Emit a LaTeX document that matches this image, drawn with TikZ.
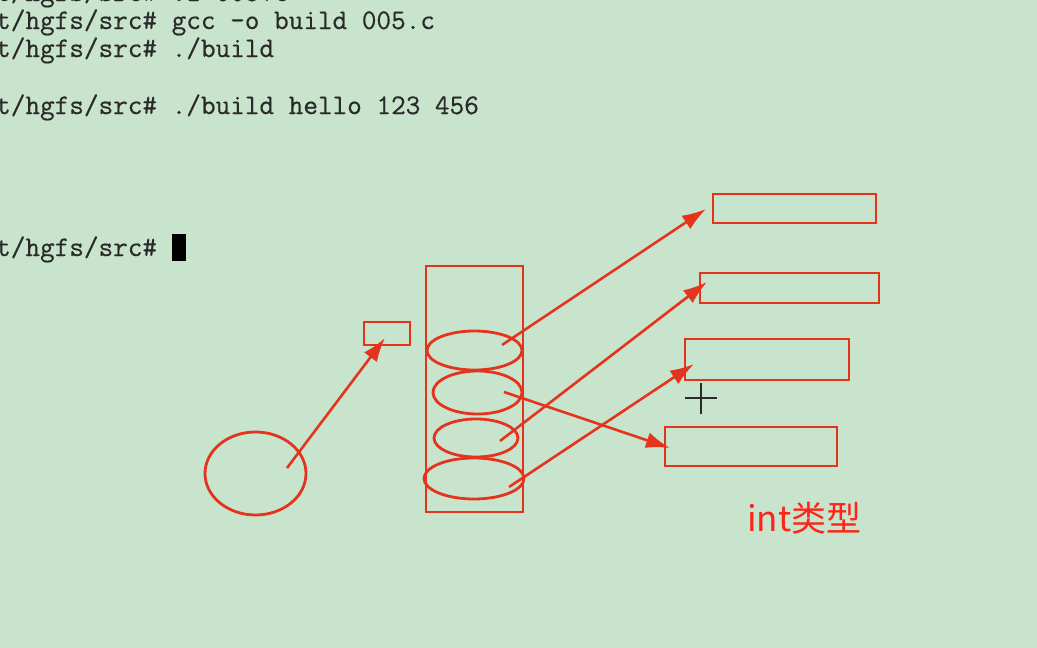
\documentclass[tikz,border=0pt]{standalone}
\usepackage{fontspec}
\newfontfamily\cjk{Noto Sans CJK SC}
\newfontfamily\termfont[FakeBold=0.5]{Latin Modern Mono}
\usetikzlibrary{arrows.meta,shapes.geometric}
\definecolor{bg}{HTML}{C8E4CD}
\definecolor{pen}{HTML}{E5341E}
\definecolor{term}{HTML}{2A2A2A}
\definecolor{lbl}{HTML}{FF2418}
\tikzset{
  termtxt/.style={anchor=base west, inner sep=0pt, text=term, font=\termfont\fontsize{28.4}{30}\selectfont},
  box/.style={draw=pen, line width=2.8pt, inner sep=0pt, rectangle},
  oval/.style={draw=pen, line width=2.8pt, inner sep=0pt, ellipse},
  ptr/.style={draw=pen, line width=2.6pt, -{Latex[length=24pt,width=16pt]}},
  cross/.style={draw=term, line width=1.4pt}
}
\begin{document}
\begin{tikzpicture}[x=1pt,y=-1pt]
\useasboundingbox (0,0) rectangle (1037,648);
\fill[bg] (0,0) rectangle (1037,648);
\begin{scope}
\clip (0,0) rectangle (1037,648);
% terminal text
\node[termtxt] (l0) at (-4,1) {t/hgfs/src\# vi 005.c};
\node[termtxt] (l1) at (-4,29) {t/hgfs/src\# gcc -o build 005.c};
\node[termtxt] (l2) at (-4,57) {t/hgfs/src\# ./build};
\node[termtxt] (l3) at (-4,114) {t/hgfs/src\# ./build hello 123 456};
\node[termtxt] (l4) at (-4,256) {t/hgfs/src\#};
\end{scope}
\fill[black] (172,234) rectangle (186,261);
% left circle and small box
\node[oval, minimum width=101pt, minimum height=83pt] (circ) at (255.5,473.5) {};
\node[box, minimum width=46pt, minimum height=23pt] (small) at (387,333.5) {};
% tall box with four ovals
\node[box, minimum width=97pt, minimum height=246pt] (tall) at (474.5,389) {};
\node[oval, minimum width=95pt, minimum height=39pt] (e1) at (474.5,350.5) {};
\node[oval, minimum width=89pt, minimum height=43pt] (e2) at (477.5,392.5) {};
\node[oval, minimum width=84pt, minimum height=38pt] (e3) at (476,438) {};
\node[oval, minimum width=100pt, minimum height=41pt] (e4) at (474,478.5) {};
% right boxes
\node[box, minimum width=163pt, minimum height=29pt] (r1) at (794.5,208.5) {};
\node[box, minimum width=179pt, minimum height=30pt] (r2) at (789.5,288) {};
\node[box, minimum width=164pt, minimum height=41pt] (r3) at (767,359.5) {};
\node[box, minimum width=172pt, minimum height=39pt] (r4) at (751,446.5) {};
% arrow ends
\coordinate (c0) at (287,468);
\coordinate (t0) at (385,338);
\coordinate (s1) at (502,345);
\coordinate (t1) at (706,209);
\coordinate (s2) at (500,441);
\coordinate (t2) at (707,282);
\coordinate (s3) at (509,487);
\coordinate (t3) at (694,364);
\coordinate (s4) at (504,392);
\coordinate (t4) at (670,448);
\draw[ptr] (c0) -- (t0);
\draw[ptr] (s1) -- (t1);
\draw[ptr] (s2) -- (t2);
\draw[ptr] (s3) -- (t3);
\draw[ptr] (s4) -- (t4);
% mouse crosshair
\coordinate (xh) at (701,398);
\draw[cross] (685,398) -- (717,398);
\draw[cross] (701,383) -- (701,414);
\fill[term] (xh) circle (1.6pt);
% label
\node[anchor=base west, inner sep=0pt, text=lbl, font=\cjk\fontsize{35}{40}\selectfont] (lab) at (747,531) {int类型};
\end{tikzpicture}
\end{document}
